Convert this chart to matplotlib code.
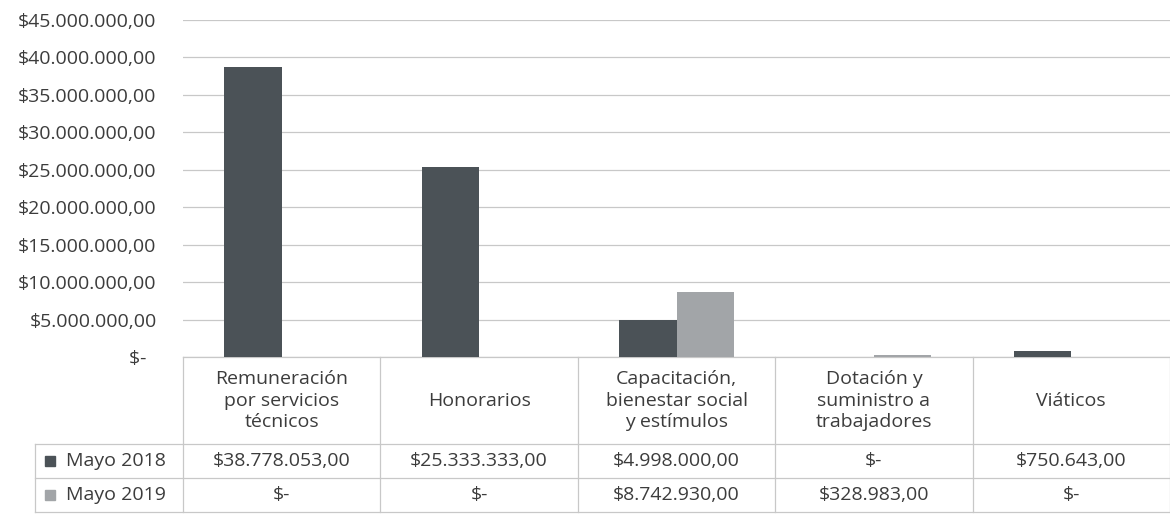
import matplotlib
matplotlib.use("Agg")
import matplotlib.pyplot as plt
from matplotlib import transforms
from matplotlib.ticker import FuncFormatter, MultipleLocator

plt.rcParams['font.family'] = ['Open Sans', 'DejaVu Sans']

# data
categorias = ["Remuneración\npor servicios\ntécnicos", "Honorarios",
              "Capacitación,\nbienestar social\ny estímulos",
              "Dotación y\nsuministro a\ntrabajadores", "Viáticos"]
series = ["Mayo 2018", "Mayo 2019"]
mayo_2018 = [38778053, 25333333, 4998000, 0, 750643]
mayo_2019 = [0, 0, 8742930, 328983, 0]
colores = ["#4b5257", "#a2a5a8"]

text_color = "#3c3c3c"
line_color = "#c8c8c8"
fs = 14


def pesos(v, pos=None):
    if v == 0:
        return "$-"
    s = f"{v:,.2f}"
    s = s.replace(",", "X").replace(".", ",").replace("X", ".")
    return "$" + s


def pesos_eje(v, pos=None):
    # accounting format leaves some room after the dash
    return pesos(v) + ("  " if v == 0 else "")


W, H = 1170, 518
fig = plt.figure(figsize=(W / 100, H / 100), dpi=100)
ax = fig.add_axes([183 / W, (H - 357) / H, 987 / W, 337 / H])

x = list(range(len(categorias)))
bw = 0.29
ax.bar([i - bw / 2 for i in x], mayo_2018, bw, color=colores[0], zorder=3)
ax.bar([i + bw / 2 for i in x], mayo_2019, bw, color=colores[1], zorder=3)

ax.set_xlim(-0.5, len(categorias) - 0.5)
ax.set_ylim(0, 45e6)
ax.yaxis.set_major_locator(MultipleLocator(5e6))
ax.yaxis.set_major_formatter(FuncFormatter(pesos_eje))
ax.tick_params(axis='y', length=0, pad=19, labelsize=fs, labelcolor=text_color)
ax.set_xticks([])
for s in ax.spines.values():
    s.set_visible(False)
ax.grid(axis='y', color=line_color, linewidth=0.9, zorder=0)

# data table under the plot
tr = transforms.blended_transform_factory(ax.transData, ax.transAxes)
px = 1 / 337
y_head = -(444 - 357) * px
y_r1 = -(478 - 357) * px
y_r2 = -(512 - 357) * px
x_left = -0.5 + (35 - 183) / 197.4
x_right = len(categorias) - 0.5

kw = dict(transform=tr, clip_on=False, color=line_color, linewidth=0.9)
ax.plot([-0.5, x_right], [0, 0], **kw)
for yy in (y_head, y_r1, y_r2):
    ax.plot([x_left, x_right], [yy, yy], **kw)
for i in range(len(categorias) + 1):
    ax.plot([i - 0.5, i - 0.5], [0, y_r2], **kw)
ax.plot([x_left, x_left], [y_head, y_r2], **kw)

for i, cat in enumerate(categorias):
    ax.text(i, y_head / 2, cat, transform=tr, ha='center', va='center',
            fontsize=fs, color=text_color, linespacing=1.22)
    ax.text(i, (y_head + y_r1) / 2, pesos(mayo_2018[i]), transform=tr,
            ha='center', va='center', fontsize=fs, color=text_color)
    ax.text(i, (y_r1 + y_r2) / 2, pesos(mayo_2019[i]), transform=tr,
            ha='center', va='center', fontsize=fs, color=text_color)

sq_x = -0.5 + (50 - 183) / 197.4
lab_x = -0.5 + (66 - 183) / 197.4
for nombre, col, (y0, y1) in zip(series, colores, [(y_head, y_r1), (y_r1, y_r2)]):
    ym = (y0 + y1) / 2
    ax.plot([sq_x], [ym], marker='s', markersize=7, color=col,
            transform=tr, clip_on=False)
    ax.text(lab_x, ym, nombre, transform=tr, ha='left', va='center',
            fontsize=fs, color=text_color)

fig.savefig("out.png", dpi=100)
